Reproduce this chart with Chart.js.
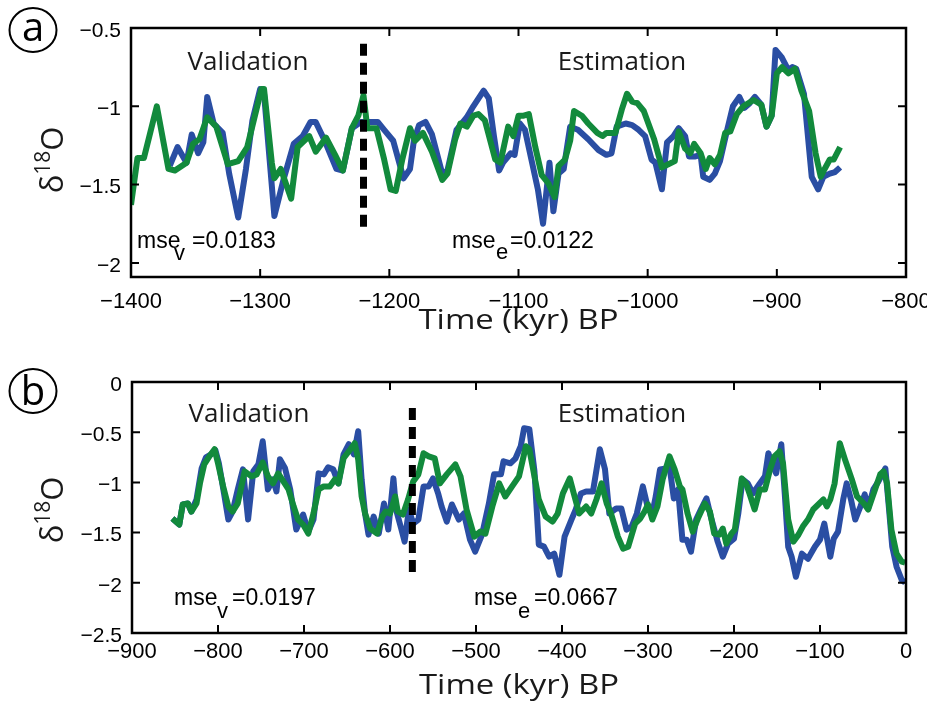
<!DOCTYPE html>
<html>
<head>
<meta charset="utf-8">
<script src="https://cdn.jsdelivr.net/npm/chart.js@4/dist/chart.umd.min.js"></script>
<style>
  body { margin: 0; background: #fff; width: 927px; height: 704px; overflow: hidden; position: relative; }
  .box { position: absolute; left: 0; width: 927px; }
</style>
</head>
<body>
<div class="box" style="top:0;height:345px"><canvas id="chartA"></canvas></div>
<div class="box" style="top:345px;height:359px"><canvas id="chartB"></canvas></div>
<script>
// panel (a): -1400 .. -800 kyr
const xTicksA = [-1400, -1300, -1200, -1100, -1000, -900, -800];
const yTicksA = [-2, -1.5, -1, -0.5];
const greenTimeA = [-1400,-1395,-1390,-1380,-1371,-1366,-1357,-1352,-1347,-1341,-1334,-1325,-1317,-1310,-1299,-1297,-1291,-1289,-1284,-1276,-1271,-1262,-1257,-1249,-1242,-1236,-1229,-1224,-1220,-1217,-1210,-1204,-1199,-1195,-1190,-1184,-1180,-1174,-1167,-1159,-1155,-1149,-1145,-1140,-1135,-1131,-1126,-1118,-1114,-1108,-1104,-1100,-1096,-1092,-1087,-1082,-1077,-1072,-1069,-1064,-1060,-1057,-1051,-1046,-1039,-1035,-1032,-1025,-1020,-1016,-1012,-1008,-1003,-995,-989,-984,-979,-976,-971,-967,-964,-959,-955,-952,-948,-944,-940,-936,-931,-926,-918,-912,-908,-904,-900,-896,-891,-886,-881,-875,-870,-866,-863,-859,-856,-851];
const greenValA = [-1.63,-1.33,-1.33,-1.00,-1.40,-1.41,-1.36,-1.24,-1.21,-1.07,-1.13,-1.37,-1.35,-1.26,-0.89,-0.89,-1.36,-1.46,-1.40,-1.59,-1.26,-1.19,-1.29,-1.20,-1.31,-1.41,-1.14,-1.06,-0.93,-1.14,-1.14,-1.34,-1.53,-1.54,-1.34,-1.14,-1.22,-1.17,-1.29,-1.47,-1.43,-1.21,-1.11,-1.13,-1.06,-1.05,-1.09,-1.34,-1.36,-1.13,-1.19,-1.06,-1.06,-1.05,-1.26,-1.44,-1.49,-1.58,-1.38,-1.34,-1.22,-1.03,-1.06,-1.11,-1.17,-1.19,-1.17,-1.17,-1.02,-0.92,-0.97,-0.98,-1.03,-1.21,-1.39,-1.37,-1.35,-1.16,-1.27,-1.30,-1.24,-1.30,-1.40,-1.33,-1.37,-1.31,-1.17,-1.16,-1.05,-1.00,-0.96,-0.99,-1.13,-1.06,-0.79,-0.75,-0.79,-0.76,-0.90,-1.03,-1.30,-1.45,-1.40,-1.34,-1.34,-1.26];
const blueTimeA = [-1370,-1364,-1357,-1353,-1348,-1344,-1341,-1336,-1329,-1324,-1317,-1311,-1306,-1300,-1297,-1289,-1282,-1274,-1267,-1261,-1257,-1250,-1241,-1236,-1229,-1222,-1209,-1204,-1197,-1189,-1184,-1181,-1177,-1172,-1167,-1159,-1155,-1148,-1140,-1135,-1127,-1123,-1119,-1115,-1112,-1106,-1103,-1099,-1095,-1090,-1085,-1081,-1076,-1073,-1069,-1065,-1060,-1054,-1046,-1038,-1032,-1028,-1024,-1017,-1012,-1007,-1002,-997,-994,-989,-985,-980,-976,-971,-968,-963,-959,-957,-952,-948,-944,-939,-934,-929,-925,-921,-917,-912,-908,-904,-901,-896,-891,-888,-885,-879,-873,-868,-864,-859,-855,-851];
const blueValA = [-1.38,-1.26,-1.36,-1.18,-1.30,-1.23,-0.94,-1.11,-1.17,-1.43,-1.71,-1.40,-1.09,-0.89,-0.92,-1.70,-1.47,-1.24,-1.19,-1.10,-1.10,-1.22,-1.40,-1.41,-1.14,-1.10,-1.10,-1.15,-1.22,-1.46,-1.40,-1.22,-1.12,-1.10,-1.18,-1.43,-1.41,-1.15,-1.07,-1.00,-0.90,-0.95,-1.19,-1.41,-1.36,-1.30,-1.31,-1.11,-1.15,-1.34,-1.53,-1.75,-1.36,-1.67,-1.43,-1.40,-1.13,-1.15,-1.21,-1.28,-1.31,-1.30,-1.13,-1.11,-1.12,-1.15,-1.19,-1.34,-1.36,-1.53,-1.23,-1.19,-1.14,-1.19,-1.32,-1.32,-1.31,-1.45,-1.47,-1.43,-1.35,-1.17,-1.00,-0.94,-1.01,-0.98,-0.94,-0.99,-1.13,-1.06,-0.64,-0.69,-0.77,-0.75,-0.76,-0.92,-1.45,-1.53,-1.45,-1.43,-1.42,-1.39];
const splitTimeA = [-1220, -1220];
const splitValA = [-0.60, -1.79];

// panel (b): -900 .. 0 kyr
const xTicksB = [-900, -800, -700, -600, -500, -400, -300, -200, -100, 0];
const yTicksB = [-2.5, -2, -1.5, -1, -0.5, 0];
const greenTimeB = [-853,-845,-841,-835,-831,-825,-821,-816,-810,-804,-800,-794,-788,-783,-777,-769,-761,-755,-748,-742,-736,-730,-724,-718,-712,-707,-701,-695,-689,-683,-677,-670,-664,-660,-654,-646,-641,-637,-633,-629,-623,-615,-609,-605,-600,-594,
  -591,-585,-579,-573,-567,-561,-555,-548,-542,-534,-524,-518,-511,-502,-495,-489,-481,-473,-466,-458,-450,-442,-438,-432,-427,-419,-411,-405,-399,-391,-386,-380,-372,-366,-360,-354,-348,-343,-335,-329,-323,-315,-309,-304,-300,
  -295,-289,-283,-275,-269,-263,-260,-254,-248,-242,-234,-228,-223,-217,-213,-209,-203,-199,-191,-186,-182,-176,-170,-164,-158,-153,-147,-143,-137,-131,-125,-120,-114,-108,-102,-96,-92,-88,-83,-77,-71,-63,-57,-49,-44,-36,-30,-26,-22,-17,-11,-5,-1];
const greenValB = [-1.36,-1.42,-1.22,-1.21,-1.29,-1.21,-1.01,-0.82,-0.74,-0.67,-0.81,-1.04,-1.24,-1.29,-1.21,-0.89,-0.94,-0.92,-0.80,-0.94,-1.01,-0.91,-0.99,-1.07,-1.24,-1.37,-1.42,-1.51,-1.31,-1.07,-1.04,-1.04,-0.97,-1.01,-0.76,-0.67,-0.61,-0.77,-1.14,-1.31,-1.46,-1.51,-1.34,-1.29,-1.31,-1.14,
  -1.29,-1.32,-1.17,-0.99,-0.92,-0.71,-0.74,-0.76,-1.01,-0.92,-0.82,-0.94,-1.27,-1.54,-1.49,-1.51,-1.24,-1.01,-1.14,-1.04,-0.94,-0.64,-0.67,-0.94,-1.17,-1.34,-1.39,-1.31,-1.11,-0.96,-1.12,-1.31,-1.24,-1.31,-1.17,-1.01,-1.21,-1.31,-1.54,-1.66,-1.64,-1.41,-1.36,-1.29,-1.22,
  -1.37,-1.24,-0.97,-0.74,-0.87,-1.04,-1.07,-1.31,-1.49,-1.36,-1.21,-1.29,-1.51,-1.52,-1.46,-1.61,-1.51,-1.47,-0.96,-1.01,-1.11,-1.27,-1.07,-1.07,-0.87,-0.74,-0.69,-0.81,-1.37,-1.59,-1.52,-1.44,-1.37,-1.27,-1.22,-1.17,-1.24,-1.17,-1.01,-0.61,-0.77,-0.97,-1.14,-1.21,-1.27,-1.07,-0.92,-0.89,-1.01,-1.47,-1.71,-1.79,-1.80];
const blueTimeB = [-853,-845,-841,-835,-831,-825,-819,-814,-808,-803,-799,-793,-788,-783,-777,-771,-765,-759,-753,-748,-742,-736,-732,-728,-722,-716,-709,-701,-695,-689,-683,-677,-672,-666,-660,-654,-648,-642,-637,-633,-629,-625,-619,-613,-607,-602,-596,
  -593,-587,-583,-578,-573,-567,-561,-555,-550,-544,-540,-534,-528,-520,-514,-507,-501,-493,-485,-479,-471,-468,-460,-454,-448,-444,-438,-432,-427,-421,-415,-409,-403,-397,-389,-384,-378,-372,-364,-356,-350,-345,-337,-331,-325,-319,-313,-306,-300,
  -295,-291,-286,-279,-275,-270,-265,-260,-255,-250,-244,-238,-232,-227,-219,-213,-207,-200,-195,-190,-184,-178,-170,-164,-160,-156,-151,-145,-141,-137,-133,-128,-121,-114,-106,-100,-95,-88,-84,-79,-73,-69,-64,-59,-53,-48,-44,-38,-32,-24,-20,-16,-11,-5,-1];
const blueValB = [-1.36,-1.42,-1.22,-1.21,-1.29,-1.17,-0.86,-0.75,-0.72,-0.68,-0.81,-1.11,-1.37,-1.29,-1.07,-0.87,-1.37,-0.89,-0.82,-0.59,-1.07,-0.97,-1.09,-0.77,-0.86,-1.07,-1.47,-1.32,-1.49,-1.37,-0.91,-0.92,-0.85,-0.87,-1.01,-0.72,-0.62,-0.72,-0.49,-0.97,-1.31,-1.52,-1.34,-1.51,-1.21,-1.47,-0.96,
  -1.27,-1.46,-1.59,-1.27,-1.41,-1.37,-1.04,-1.04,-0.96,-1.11,-1.24,-1.39,-1.22,-1.37,-1.31,-1.57,-1.69,-1.52,-1.21,-0.92,-0.92,-0.79,-0.81,-0.76,-0.64,-0.46,-0.47,-0.89,-1.62,-1.64,-1.74,-1.71,-1.92,-1.54,-1.37,-1.27,-1.11,-1.09,-1.09,-0.67,-0.87,-1.31,-1.26,-1.26,-1.47,-1.44,-1.31,-1.04,-1.26,
  -1.31,-1.14,-0.87,-0.86,-0.84,-1.16,-1.07,-1.57,-1.57,-1.69,-1.37,-1.26,-1.16,-1.34,-1.59,-1.74,-1.61,-1.56,-1.31,-0.97,-1.01,-1.11,-1.01,-0.94,-0.71,-0.81,-0.91,-0.62,-1.11,-1.64,-1.74,-1.94,-1.71,-1.76,-1.64,-1.57,-1.41,-1.74,-1.56,-1.49,-1.17,-1.01,-1.17,-1.37,-1.24,-1.12,-1.26,-1.07,-0.99,-0.86,-1.24,-1.64,-1.84,-1.97,-2.00];
const splitTimeB = [-574, -574];
const splitValB = [-0.26, -1.90];

const BLUE = '#2a4ea3';
const GREEN = '#128a3c';
const LABEL_FONT = '"Open Sans", "DejaVu Sans", sans-serif';
const NUM_FONT = '"Liberation Sans", Arial, sans-serif';

const pts = (ts, vs) => ts.map((t, i) => ({x: t, y: vs[i]}));
const minus = v => v === 0 ? '0' : (v < 0 ? '\u2212' : '') + Math.abs(v);

// frame, inward ticks and all the text of a panel
const decor = {
  id: 'decor',
  afterDatasetsDraw(chart, args, o) {
    const {ctx, chartArea: a, scales: {x, y}} = chart;
    ctx.save();
    ctx.strokeStyle = '#000';
    ctx.lineWidth = 2;
    ctx.beginPath();
    x.ticks.forEach(t => {
      const p = x.getPixelForValue(t.value);
      ctx.moveTo(p, a.bottom); ctx.lineTo(p, a.bottom - 8);
      ctx.moveTo(p, a.top); ctx.lineTo(p, a.top + 8);
    });
    y.ticks.forEach(t => {
      const p = y.getPixelForValue(t.value);
      ctx.moveTo(a.left, p); ctx.lineTo(a.left + 8, p);
      ctx.moveTo(a.right, p); ctx.lineTo(a.right - 8, p);
    });
    ctx.stroke();
    ctx.lineWidth = 2.5;
    ctx.strokeRect(a.left, a.top, a.right - a.left, a.bottom - a.top);

    ctx.textBaseline = 'alphabetic';
    // panel letter in a circle
    ctx.lineWidth = 2;
    ctx.beginPath();
    ctx.ellipse(o.letter.x, o.letter.y, 23.5, 22, 0, 0, Math.PI * 2);
    ctx.stroke();
    ctx.font = '40px ' + LABEL_FONT;
    ctx.textAlign = 'center';
    ctx.fillStyle = '#000';
    ctx.fillText(o.letter.s, o.letter.x, o.letter.y + o.letter.dy);

    ctx.fillStyle = '#1a1a1a';
    ctx.font = '26px ' + LABEL_FONT;
    o.words.forEach(w => ctx.fillText(w.s, w.x, w.y));

    // axis title, a little wider like the original figure
    ctx.font = '27px ' + LABEL_FONT;
    const tw = ctx.measureText('Time (kyr) BP').width;
    ctx.save();
    ctx.translate((a.left + a.right) / 2, o.xTitleY);
    ctx.scale(200 / tw, 1);
    ctx.fillText('Time (kyr) BP', 0, 0);
    ctx.restore();

    ctx.fillStyle = '#000';
    ctx.textAlign = 'left';
    o.mse.forEach(m => {
      ctx.font = (m.sub ? '22px ' : '23px ') + NUM_FONT;
      ctx.fillText(m.s, m.x, m.y);
    });

    // rotated delta-18-O label
    ctx.save();
    ctx.translate(63, o.yTitleY);
    ctx.rotate(-Math.PI / 2);
    ctx.fillStyle = '#1a1a1a';
    ctx.font = '31px ' + LABEL_FONT;
    const wd = ctx.measureText('\u03b4').width;
    const wo = ctx.measureText('O').width;
    ctx.font = '21px ' + LABEL_FONT;
    const ws = ctx.measureText('18').width;
    let cx = -(wd + ws + wo) / 2;
    ctx.font = '31px ' + LABEL_FONT;
    ctx.fillText('\u03b4', cx, 0); cx += wd;
    ctx.font = '21px ' + LABEL_FONT;
    ctx.fillText('18', cx, -13); cx += ws;
    ctx.font = '31px ' + LABEL_FONT;
    ctx.fillText('O', cx, 0);
    ctx.restore();

    ctx.restore();
  }
};

function makeChart(id, c) {
  return new Chart(document.getElementById(id), {
    type: 'line',
    data: {
      datasets: [
        {data: pts(c.splitT, c.splitV), borderColor: '#000', borderWidth: 7, borderDash: [12, 7], order: 0},
        {data: pts(c.greenT, c.greenV), borderColor: GREEN, borderWidth: 6, order: 1},
        {data: pts(c.blueT, c.blueV), borderColor: BLUE, borderWidth: 6, order: 2}
      ]
    },
    options: {
      responsive: true,
      maintainAspectRatio: false,
      devicePixelRatio: 1,
      animation: false,
      layout: {padding: {top: c.top, right: 21, left: 0, bottom: 0}},
      elements: {
        point: {radius: 0},
        line: {tension: 0, borderJoinStyle: 'round', borderCapStyle: 'butt', fill: false}
      },
      plugins: {legend: {display: false}, tooltip: {enabled: false}, decor: c.decor},
      scales: {
        x: {
          type: 'linear', min: c.xTicks[0], max: c.xTicks[c.xTicks.length - 1],
          afterBuildTicks: s => { s.ticks = c.xTicks.map(v => ({value: v})); },
          afterFit: s => { s.height = c.xAxisH; s.paddingLeft = 0; s.paddingRight = 0; },
          grid: {display: false, drawTicks: false},
          border: {display: false},
          ticks: {color: '#000', font: {family: NUM_FONT, size: 22}, padding: c.xPad, maxRotation: 0, autoSkip: false, callback: minus}
        },
        y: {
          type: 'linear', min: c.yMin, max: c.yMax,
          afterBuildTicks: s => { s.ticks = c.yTicks.map(v => ({value: v})); },
          afterFit: s => { s.width = c.yAxisW; s.paddingTop = 0; s.paddingBottom = 0; },
          grid: {display: false, drawTicks: false},
          border: {display: false},
          ticks: {color: '#000', font: {family: NUM_FONT, size: 21}, padding: 10, labelOffset: 3, callback: minus}
        }
      }
    },
    plugins: [decor]
  });
}

makeChart('chartA', {
  xTicks: xTicksA, yTicks: yTicksA, yMin: -2.09, yMax: -0.5,
  greenT: greenTimeA, greenV: greenValA, blueT: blueTimeA, blueV: blueValA,
  splitT: splitTimeA, splitV: splitValA,
  top: 28, xAxisH: 68, yAxisW: 131, xPad: 12,
  decor: {
    letter: {s: 'a', x: 33, y: 30, dy: 11},
    words: [{s: 'Validation', x: 248, y: 70}, {s: 'Estimation', x: 622, y: 70}],
    mse: [{s: 'mse', x: 137, y: 248}, {s: 'v', x: 174, y: 260, sub: true}, {s: '=0.0183', x: 192, y: 248},
          {s: 'mse', x: 452, y: 248}, {s: 'e', x: 496, y: 259, sub: true}, {s: '=0.0122', x: 510, y: 248}],
    xTitleY: 329, yTitleY: 160
  }
});

makeChart('chartB', {
  xTicks: xTicksB, yTicks: yTicksB, yMin: -2.5, yMax: 0,
  greenT: greenTimeB, greenV: greenValB, blueT: blueTimeB, blueV: blueValB,
  splitT: splitTimeB, splitV: splitValB,
  top: 37, xAxisH: 71, yAxisW: 132, xPad: 6,
  decor: {
    letter: {s: 'b', x: 33, y: 46, dy: 14},
    words: [{s: 'Validation', x: 249, y: 77}, {s: 'Estimation', x: 622, y: 77}],
    mse: [{s: 'mse', x: 174, y: 260}, {s: 'v', x: 217, y: 273, sub: true}, {s: '=0.0197', x: 232, y: 260},
          {s: 'mse', x: 474, y: 260}, {s: 'e', x: 518, y: 273, sub: true}, {s: '=0.0667', x: 534, y: 260}],
    xTitleY: 349, yTitleY: 165
  }
});
</script>
</body>
</html>
